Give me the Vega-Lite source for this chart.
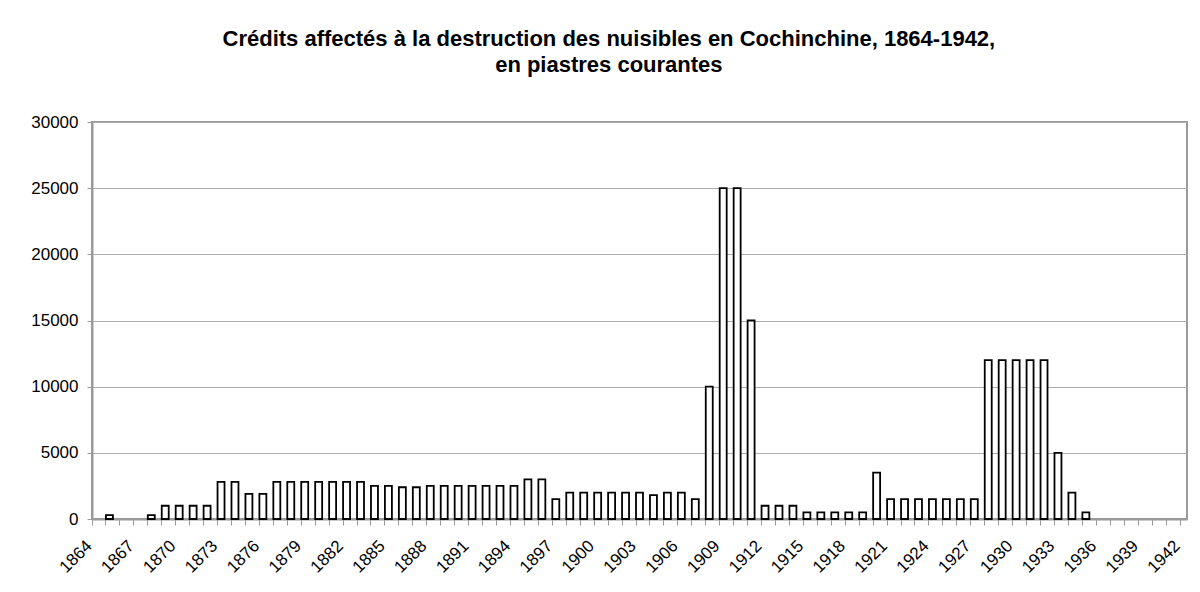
{
  "$schema": "https://vega.github.io/schema/vega-lite/v6.json",
  "autosize": {"type": "none"},
  "width": 1095,
  "height": 397,
  "padding": {"left": 92, "top": 122, "right": 13, "bottom": 73},
  "background": "white",
  "title": {
    "text": ["Crédits affectés à la destruction des nuisibles en Cochinchine, 1864-1942,", "en piastres courantes"],
    "font": "Liberation Sans",
    "fontSize": 22,
    "fontWeight": "bold",
    "color": "black",
    "anchor": "middle",
    "frame": "bounds",
    "lineHeight": 26,
    "offset": 36
  },
  "config": {
    "view": {"stroke": "#9a9a9a", "strokeWidth": 2},
    "axis": {"labelFont": "Liberation Sans", "labelColor": "black"}
  },
  "data": {
    "values": [
      {"annee": 1864, "credits": null},
      {"annee": 1865, "credits": 300},
      {"annee": 1866, "credits": null},
      {"annee": 1867, "credits": null},
      {"annee": 1868, "credits": 300},
      {"annee": 1869, "credits": 1000},
      {"annee": 1870, "credits": 1000},
      {"annee": 1871, "credits": 1000},
      {"annee": 1872, "credits": 1000},
      {"annee": 1873, "credits": 2800},
      {"annee": 1874, "credits": 2800},
      {"annee": 1875, "credits": 1900},
      {"annee": 1876, "credits": 1900},
      {"annee": 1877, "credits": 2800},
      {"annee": 1878, "credits": 2800},
      {"annee": 1879, "credits": 2800},
      {"annee": 1880, "credits": 2800},
      {"annee": 1881, "credits": 2800},
      {"annee": 1882, "credits": 2800},
      {"annee": 1883, "credits": 2800},
      {"annee": 1884, "credits": 2500},
      {"annee": 1885, "credits": 2500},
      {"annee": 1886, "credits": 2400},
      {"annee": 1887, "credits": 2400},
      {"annee": 1888, "credits": 2500},
      {"annee": 1889, "credits": 2500},
      {"annee": 1890, "credits": 2500},
      {"annee": 1891, "credits": 2500},
      {"annee": 1892, "credits": 2500},
      {"annee": 1893, "credits": 2500},
      {"annee": 1894, "credits": 2500},
      {"annee": 1895, "credits": 3000},
      {"annee": 1896, "credits": 3000},
      {"annee": 1897, "credits": 1500},
      {"annee": 1898, "credits": 2000},
      {"annee": 1899, "credits": 2000},
      {"annee": 1900, "credits": 2000},
      {"annee": 1901, "credits": 2000},
      {"annee": 1902, "credits": 2000},
      {"annee": 1903, "credits": 2000},
      {"annee": 1904, "credits": 1800},
      {"annee": 1905, "credits": 2000},
      {"annee": 1906, "credits": 2000},
      {"annee": 1907, "credits": 1500},
      {"annee": 1908, "credits": 10000},
      {"annee": 1909, "credits": 25000},
      {"annee": 1910, "credits": 25000},
      {"annee": 1911, "credits": 15000},
      {"annee": 1912, "credits": 1000},
      {"annee": 1913, "credits": 1000},
      {"annee": 1914, "credits": 1000},
      {"annee": 1915, "credits": 500},
      {"annee": 1916, "credits": 500},
      {"annee": 1917, "credits": 500},
      {"annee": 1918, "credits": 500},
      {"annee": 1919, "credits": 500},
      {"annee": 1920, "credits": 3500},
      {"annee": 1921, "credits": 1500},
      {"annee": 1922, "credits": 1500},
      {"annee": 1923, "credits": 1500},
      {"annee": 1924, "credits": 1500},
      {"annee": 1925, "credits": 1500},
      {"annee": 1926, "credits": 1500},
      {"annee": 1927, "credits": 1500},
      {"annee": 1928, "credits": 12000},
      {"annee": 1929, "credits": 12000},
      {"annee": 1930, "credits": 12000},
      {"annee": 1931, "credits": 12000},
      {"annee": 1932, "credits": 12000},
      {"annee": 1933, "credits": 5000},
      {"annee": 1934, "credits": 2000},
      {"annee": 1935, "credits": 500},
      {"annee": 1936, "credits": null},
      {"annee": 1937, "credits": null},
      {"annee": 1938, "credits": null},
      {"annee": 1939, "credits": null},
      {"annee": 1940, "credits": null},
      {"annee": 1941, "credits": null},
      {"annee": 1942, "credits": null}
    ]
  },
  "mark": {"type": "bar", "fill": "white", "stroke": "black", "strokeWidth": 1.8},
  "encoding": {
    "x": {
      "field": "annee",
      "type": "ordinal",
      "sort": "ascending",
      "scale": {"paddingInner": 0.5, "paddingOuter": 0,
        "domain": [1864,1865,1866,1867,1868,1869,1870,1871,1872,1873,1874,1875,1876,1877,1878,1879,1880,1881,1882,1883,1884,1885,1886,1887,1888,1889,1890,1891,1892,1893,1894,1895,1896,1897,1898,1899,1900,1901,1902,1903,1904,1905,1906,1907,1908,1909,1910,1911,1912,1913,1914,1915,1916,1917,1918,1919,1920,1921,1922,1923,1924,1925,1926,1927,1928,1929,1930,1931,1932,1933,1934,1935,1936,1937,1938,1939,1940,1941,1942]},
      "axis": {
        "title": null,
        "bandPosition": 0,
        "labelExpr": "(datum.value - 1864) % 3 == 0 ? datum.label : ''",
        "labelAngle": -45,
        "labelAlign": "right",
        "labelBaseline": "middle",
        "labelFontSize": 17,
        "labelPadding": 18,
        "labelOffset": -6,
        "labelOverlap": false,
        "labelBound": false,
        "tickSize": 6,
        "tickColor": "#9a9a9a",
        "tickWidth": 1,
        "domainColor": "#9a9a9a",
        "domainWidth": 2,
        "grid": false
      }
    },
    "y": {
      "field": "credits",
      "type": "quantitative",
      "scale": {"domain": [0, 30000], "nice": false},
      "axis": {
        "title": null,
        "values": [0, 5000, 10000, 15000, 20000, 25000, 30000],
        "format": "d",
        "labelFontSize": 17,
        "labelPadding": 9,
        "tickSize": 5,
        "tickColor": "#9a9a9a",
        "domainColor": "#9a9a9a",
        "domainWidth": 2,
        "grid": true,
        "gridColor": "#ababab",
        "gridWidth": 1
      }
    }
  }
}
